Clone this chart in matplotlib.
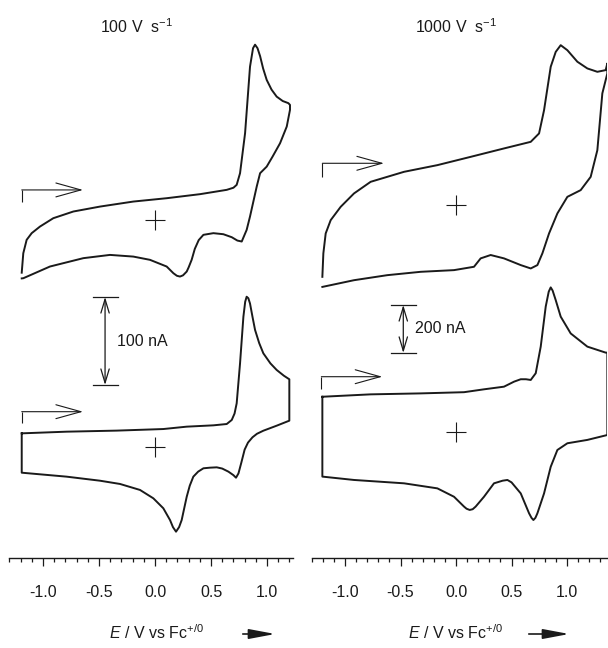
import numpy as np
import matplotlib
matplotlib.use("Agg")
import matplotlib.pyplot as plt

plt.rcParams['font.family'] = ['Liberation Sans', 'DejaVu Sans']
plt.rcParams['mathtext.fontset'] = 'custom'
plt.rcParams['mathtext.rm'] = 'Liberation Sans'
plt.rcParams['mathtext.it'] = 'Liberation Sans:italic'

# 100 V/s, experiment (E in V, I in nA)
e_100_exp = [-1.190, -1.176, -1.146, -1.101, -1.027, -0.908, -0.729, -0.491, -0.194, 0.104,
             0.402, 0.640, 0.700, 0.729, 0.759, 0.804, 0.848, 0.875, 0.893, 0.915,
             0.938, 0.965, 0.997, 1.040, 1.086, 1.140, 1.190, 1.205, 1.205, 1.176,
             1.116, 1.050, 0.997, 0.938, 0.908, 0.848, 0.818, 0.774, 0.735, 0.685,
             0.610, 0.521, 0.432, 0.390, 0.355, 0.327, 0.300, 0.283, 0.250, 0.223,
             0.195, 0.164, 0.104, -0.045, -0.194, -0.402, -0.640, -0.938, -1.176, -1.190]
i_100_exp = [-60, -37.9, -22.7, -15.1, -7.6, 1.9, 9.5, 15.1, 20.8, 24.6,
             29.2, 34.1, 36.5, 39.8, 53, 98.5, 174, 195, 199, 195,
             186, 172, 159, 148, 140, 135, 132.6, 130.6, 125, 106,
             87, 72, 60.5, 53, 37.9, 3.8, -11.4, -24.6, -23.5, -19.7,
             -16.3, -15.1, -17, -23, -33, -45.4, -54, -58.7, -63, -64.4,
             -63.5, -60.6, -53, -45.4, -41.7, -39.8, -43.5, -53, -66.3, -66.5]

# 100 V/s, simulation
e_100_sim = [-1.190, -0.789, -0.342, 0.074, 0.283, 0.521, 0.640, 0.685, 0.710, 0.729,
             0.759, 0.789, 0.805, 0.818, 0.833, 0.848, 0.870, 0.893, 0.930, 0.967,
             1.030, 1.086, 1.150, 1.199, 1.199, 1.086, 0.967, 0.910, 0.870, 0.830,
             0.800, 0.770, 0.745, 0.723, 0.700, 0.655, 0.600, 0.551, 0.490, 0.432,
             0.385, 0.342, 0.310, 0.283, 0.260, 0.238, 0.215, 0.1875, 0.160, 0.134,
             0.074, -0.015, -0.134, -0.3125, -0.491, -0.789, -1.190, -1.190]
i_100_sim = [15.5, 17.4, 18.6, 20.4, 23.1, 24.6, 26.1, 30.7, 38, 49.6,
             95, 148, 165, 170.7, 169, 163, 148, 133, 118, 106.4,
             95, 87.5, 81, 76.9, 29.9, 24.2, 18.5, 15, 11, 5,
             -3, -18, -30, -34.9, -32, -28, -24.5, -23.1, -23.5, -24.2,
             -28, -33.7, -44, -56.5, -70, -83, -91, -96.2, -91, -83,
             -69.6, -58.3, -48.8, -42, -38.3, -33.7, -29.2, 15.5]

# 1000 V/s, experiment
e_1000_exp = [-1.204, -1.195, -1.174, -1.129, -1.039, -0.919, -0.769, -0.468, -0.168, 0.132,
              0.432, 0.673, 0.748, 0.793, 0.853, 0.898, 0.943, 1.003, 1.093, 1.183,
              1.273, 1.348, 1.363, 1.363, 1.318, 1.273, 1.213, 1.123, 1.003, 0.913,
              0.838, 0.778, 0.733, 0.673, 0.583, 0.432, 0.312, 0.222, 0.162, -0.018,
              -0.318, -0.619, -0.919, -1.204]
i_1000_exp = [-299, -201, -118, -62.6, -7, 48.8, 97.3, 139, 166.8, 201.4,
              236.4, 264, 299, 396, 577, 639, 667, 646, 598, 570,
              556, 563, 591, 549, 466, 229, 118, 62.6, 34.6, -34.6,
              -118, -201, -250, -264, -250, -222, -208, -222, -257, -271,
              -278, -292, -313, -341]

# 1000 V/s, simulation
e_1000_sim = [-1.204, -0.769, -0.318, 0.072, 0.252, 0.432, 0.523, 0.583, 0.630, 0.673,
              0.718, 0.763, 0.808, 0.835, 0.853, 0.870, 0.898, 0.943, 1.033, 1.183,
              1.348, 1.363, 1.363, 1.183, 1.003, 0.913, 0.853, 0.793, 0.733, 0.715,
              0.697, 0.680, 0.658, 0.583, 0.500, 0.463, 0.420, 0.342, 0.252, 0.177,
              0.150, 0.123, 0.095, 0.072, -0.018, -0.168, -0.468, -0.919, -1.204, -1.204]
i_1000_sim = [147, 157, 161, 166, 178, 189, 210, 220, 220, 217,
              245, 356, 523, 585, 603, 590, 550, 481, 411, 356,
              331, 331, -12.5, -33, -47, -75, -145, -256, -339, -358,
              -367, -358, -339, -256, -210, -200, -203, -214, -270, -311,
              -322, -325, -320, -311, -270, -235, -214, -200, -186, 147]

ink = '#1a1a1a'
fig = plt.figure(figsize=(6.08, 6.48), dpi=100)
W, H = 608.0, 648.0


def make_axes(x0, x1, xlim, ylim):
    ax = fig.add_axes([x0 / W, (H - 558) / H, (x1 - x0) / W, 548 / H])
    ax.set_xlim(*xlim)
    ax.set_ylim(*ylim)
    for s in ['top', 'right', 'left']:
        ax.spines[s].set_visible(False)
    ax.spines['bottom'].set_linewidth(1.0)
    ax.spines['bottom'].set_color(ink)
    ax.set_yticks([])
    ax.set_xticks([-1.0, -0.5, 0.0, 0.5, 1.0])
    ax.set_xticklabels(['-1.0', '-0.5', '0.0', '0.5', '1.0'])
    ax.tick_params(axis='x', which='major', direction='out', length=5.5, width=0.9,
                   labelsize=11.5, pad=14, colors=ink)
    ax.tick_params(axis='x', which='minor', direction='out', length=3, width=0.9, colors=ink)
    ax.patch.set_visible(False)
    return ax


def scan_arrow(ax, x0, x1, ybot, ytop):
    ax.plot([x0, x0], [ybot, ytop], color=ink, lw=0.8, solid_capstyle='butt')
    ax.annotate('', xy=(x1, ytop), xytext=(x0, ytop),
                arrowprops=dict(arrowstyle='->,head_length=1.8,head_width=0.5',
                                lw=0.8, color=ink, shrinkA=0, shrinkB=0, mutation_scale=10))


def scale_bar(ax, x, y0, y1, half, label):
    ax.annotate('', xy=(x, y1), xytext=(x, y0),
                arrowprops=dict(arrowstyle='<->,head_length=1.0,head_width=0.3',
                                lw=0.9, color=ink, shrinkA=0, shrinkB=0, mutation_scale=10))
    ax.plot([x - half, x + half], [y0, y0], color=ink, lw=0.9)
    ax.plot([x - half, x + half], [y1, y1], color=ink, lw=0.9)
    ax.text(x + half * 0.95, (y0 + y1) / 2, label, fontsize=11.5, va='center', ha='left', color=ink)


# left column: 100 V/s
off_l = 258.0
axL = make_axes(9.4, 292.8, (-1.3, 1.23), (-126.1, 496.4))
axL.set_xticks(np.round(np.arange(-1.3, 1.21, 0.1), 1), minor=True)
axL.plot(e_100_exp, np.array(i_100_exp) + off_l, color=ink, lw=1.4)
axL.plot(e_100_sim, i_100_sim, color=ink, lw=1.4)
axL.plot([0, 0], [off_l, 0], ls='none', marker='+', ms=14, mew=0.8, color=ink)
scan_arrow(axL, -1.19, -0.643, 278.7, 292.0)
scan_arrow(axL, -1.19, -0.643, 26.9, 40.1)
scale_bar(axL, -0.446, 70.4, 170.4, 0.112, '100 nA')

# right column: 1000 V/s
off_r = 946.0
axR = make_axes(311.7, 607.0, (-1.3, 1.36), (-525.4, 1759.7))
axR.set_xticks(np.round(np.arange(-1.3, 1.31, 0.1), 1), minor=True)
axR.plot(e_1000_exp, np.array(i_1000_exp) + off_r, color=ink, lw=1.4)
axR.plot(e_1000_sim, i_1000_sim, color=ink, lw=1.4)
axR.plot([0, 0], [off_r, 0], ls='none', marker='+', ms=14, mew=0.8, color=ink)
scan_arrow(axR, -1.204, -0.649, 1064.6, 1120.5)
scan_arrow(axR, -1.213, -0.664, 178.0, 230.6)
scale_bar(axR, -0.475, 329.6, 529.6, 0.113, '200 nA')

# titles
fig.text(137 / W, 1 - 27 / H, r'100 V  s$^{-1}$', ha='center', va='center', fontsize=11.5, color=ink)
fig.text(456 / W, 1 - 27 / H, r'1000 V  s$^{-1}$', ha='center', va='center', fontsize=11.5, color=ink)

# x labels with direction arrows
for cx, a0, a1 in [(156, 240, 278), (455, 526, 572)]:
    fig.text(cx / W, 1 - 633 / H, r'$\it{E}$ / V vs Fc$^{+/0}$', ha='center', va='center',
             fontsize=11.5, color=ink)
    fig.patches.append(matplotlib.patches.FancyArrowPatch(
        (a0 / W, 1 - 634 / H), (a1 / W, 1 - 634 / H), transform=fig.transFigure,
        arrowstyle='-|>,head_length=1.6,head_width=0.3', mutation_scale=10,
        lw=1.2, color=ink))

fig.savefig('out.png', dpi=100)
